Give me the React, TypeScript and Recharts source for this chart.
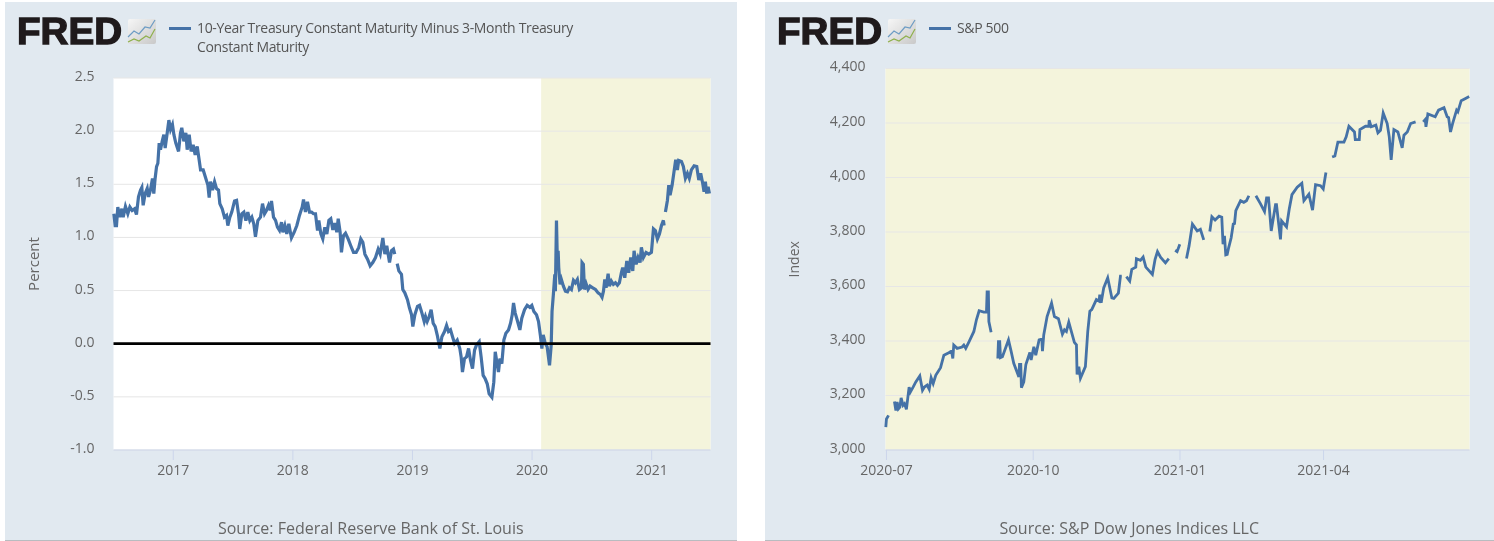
import React from "react";
import {
  LineChart,
  Line,
  XAxis,
  YAxis,
  CartesianGrid,
  ReferenceArea,
  ReferenceLine,
} from "recharts";

// 10-year minus 3-month spread, read off the picture (decimal years / percent)
const spreadYears = [
  2016.503, 2016.514, 2016.525, 2016.536, 2016.553, 2016.57, 2016.581, 2016.6, 2016.62, 2016.637,
  2016.656, 2016.676, 2016.692, 2016.709, 2016.726, 2016.737, 2016.748, 2016.765, 2016.782, 2016.793,
  2016.809, 2016.826, 2016.837, 2016.848, 2016.86, 2016.871, 2016.882, 2016.893, 2016.907, 2016.921,
  2016.932, 2016.949, 2016.963, 2016.977, 2016.993, 2017.005, 2017.021, 2017.044, 2017.06, 2017.071,
  2017.088, 2017.105, 2017.116, 2017.133, 2017.149, 2017.166, 2017.183, 2017.2, 2017.216, 2017.228,
  2017.25, 2017.272, 2017.289, 2017.3, 2017.311, 2017.328, 2017.345, 2017.361, 2017.378, 2017.389,
  2017.409, 2017.428, 2017.445, 2017.456, 2017.473, 2017.489, 2017.512, 2017.529, 2017.545, 2017.556,
  2017.573, 2017.59, 2017.607, 2017.623, 2017.64, 2017.657, 2017.673, 2017.687, 2017.707, 2017.729,
  2017.746, 2017.763, 2017.779, 2017.796, 2017.81, 2017.821, 2017.838, 2017.855, 2017.871, 2017.888,
  2017.905, 2017.916, 2017.933, 2017.949, 2017.966, 2017.988, 2018.011, 2018.033, 2018.055, 2018.078,
  2018.089, 2018.105, 2018.122, 2018.139, 2018.156, 2018.172, 2018.189, 2018.206, 2018.217, 2018.234,
  2018.25, 2018.267, 2018.284, 2018.301, 2018.317, 2018.334, 2018.351, 2018.367, 2018.379, 2018.395,
  2018.406, 2018.423, 2018.44, 2018.462, 2018.484, 2018.507, 2018.529, 2018.551, 2018.568, 2018.585,
  2018.602, 2018.624, 2018.646, 2018.668, 2018.691, 2018.713, 2018.73, 2018.752, 2018.769, 2018.785,
  2018.808, 2018.825, 2018.841, 2018.852, 2018.862, 2018.872, 2018.886, 2018.908, 2018.919, 2018.936,
  2018.958, 2018.975, 2018.992, 2019.003, 2019.02, 2019.042, 2019.059, 2019.075, 2019.098, 2019.109,
  2019.123, 2019.14, 2019.156, 2019.173, 2019.19, 2019.207, 2019.229, 2019.246, 2019.268, 2019.285,
  2019.301, 2019.318, 2019.335, 2019.352, 2019.374, 2019.396, 2019.407, 2019.418, 2019.435, 2019.452,
  2019.469, 2019.485, 2019.502, 2019.519, 2019.535, 2019.558, 2019.574, 2019.591, 2019.608, 2019.625,
  2019.641, 2019.664, 2019.68, 2019.692, 2019.703, 2019.719, 2019.731, 2019.747, 2019.764, 2019.781,
  2019.803, 2019.82, 2019.834, 2019.845, 2019.859, 2019.875, 2019.898, 2019.914, 2019.937, 2019.959,
  2019.981, 2019.998, 2020.015, 2020.037, 2020.054, 2020.071, 2020.082, 2020.093, 2020.11, 2020.126,
  2020.146, 2020.16, 2020.167, 2020.178, 2020.19, 2020.195, 2020.204, 2020.212, 2020.218, 2020.223,
  2020.234, 2020.245, 2020.262, 2020.279, 2020.296, 2020.312, 2020.329, 2020.346, 2020.362, 2020.379,
  2020.396, 2020.413, 2020.418, 2020.429, 2020.438, 2020.452, 2020.468, 2020.485, 2020.507, 2020.53,
  2020.552, 2020.571, 2020.585, 2020.597, 2020.608, 2020.619, 2020.636, 2020.647, 2020.663, 2020.68,
  2020.697, 2020.714, 2020.73, 2020.747, 2020.758, 2020.775, 2020.792, 2020.808, 2020.825, 2020.842,
  2020.853, 2020.87, 2020.886, 2020.903, 2020.914, 2020.931, 2020.953, 2020.976, 2020.998, 2021.015,
  2021.031, 2021.048, 2021.065, 2021.082, 2021.098, 2021.104, 2021.11, 2021.115, 2021.132, 2021.143,
  2021.154, 2021.171, 2021.187, 2021.201, 2021.215, 2021.226, 2021.249, 2021.265, 2021.282, 2021.299,
  2021.315, 2021.332, 2021.355, 2021.377, 2021.394, 2021.41, 2021.427, 2021.438, 2021.449, 2021.46,
  2021.472, 2021.483,
];
const spreadValues = [
  1.223, 1.112, 1.112, 1.286, 1.191, 1.27, 1.191, 1.292, 1.223, 1.286,
  1.254, 1.27, 1.216, 1.381, 1.445, 1.47, 1.302, 1.413, 1.46, 1.381,
  1.445, 1.555, 1.413, 1.555, 1.666, 1.698, 1.888, 1.825, 1.904, 1.967,
  1.841, 1.983, 2.104, 2.015, 2.062, 1.967, 1.888, 1.809, 1.983, 2.031,
  1.904, 1.983, 1.825, 1.967, 1.809, 1.872, 1.777, 1.856, 1.73, 1.635,
  1.635, 1.555, 1.492, 1.375, 1.524, 1.445, 1.524, 1.46, 1.445, 1.318,
  1.27, 1.191, 1.207, 1.112, 1.191, 1.239, 1.343, 1.349, 1.223, 1.08,
  1.223, 1.239, 1.159, 1.239, 1.159, 1.191, 1.128, 1.007, 1.159, 1.191,
  1.318, 1.223, 1.254, 1.302, 1.255, 1.344, 1.191, 1.16, 1.096, 1.065,
  1.144, 1.049, 1.112, 1.033, 1.128, 0.995, 1.049, 1.112, 1.207, 1.287,
  1.356, 1.239, 1.334, 1.239, 1.239, 1.223, 1.223, 1.065, 1.16, 1.033,
  0.986, 1.096, 1.033, 1.16, 1.176, 1.071, 1.134, 1.049, 1.176, 1.049,
  0.859, 1.017, 1.039, 0.986, 0.922, 0.859, 0.859, 0.906, 0.986, 0.954,
  0.843, 0.795, 0.732, 0.764, 0.811, 0.89, 0.843, 0.995, 0.843, 0.922,
  0.764, 0.875, 0.89, 0.843, null, 0.754, 0.685, 0.653, 0.51, 0.479,
  0.415, 0.336, 0.273, 0.162, 0.273, 0.352, 0.361, 0.304, 0.209, 0.256,
  0.209, 0.256, 0.32, 0.193, 0.161, 0.082, -0.045, 0.066, 0.114, 0.171,
  0.114, 0.13, 0.066, 0.003, 0.034, -0.045, -0.124, -0.267, -0.14, -0.124,
  -0.045, -0.156, -0.235, -0.061, -0.013, 0.019, -0.124, -0.298, -0.33, -0.377,
  -0.472, -0.504, -0.362, -0.076, -0.156, -0.267, -0.14, -0.187, 0.034, 0.098,
  0.13, 0.193, 0.272, 0.383, 0.288, 0.225, 0.13, 0.24, 0.32, 0.361,
  0.342, 0.361, 0.304, 0.272, 0.209, 0.066, -0.045, 0.082, 0.003, -0.029,
  -0.203, -0.013, 0.304, 0.463, 0.653, 0.494, 1.16, 0.748, 0.874, 0.716,
  0.558, 0.605, 0.542, 0.494, 0.488, 0.526, 0.51, 0.596, 0.573, 0.605,
  0.51, 0.526, 0.764, 0.748, 0.51, 0.564, 0.51, 0.542, 0.526, 0.51,
  0.478, 0.463, 0.437, 0.494, 0.605, 0.526, 0.659, 0.542, 0.589, 0.558,
  0.573, 0.551, 0.573, 0.668, 0.716, 0.621, 0.779, 0.668, 0.811, 0.684,
  0.874, 0.748, 0.811, 0.764, 0.906, 0.811, 0.859, 0.843, 0.859, 1.08,
  1.064, 0.985, 1.033, 1.112, 1.16, 1.112, null, 1.239, 1.35, 1.492,
  1.397, 1.492, 1.619, 1.73, 1.635, 1.724, 1.714, 1.667, 1.556, 1.603,
  1.556, 1.635, 1.673, 1.667, 1.54, 1.603, 1.508, 1.429, 1.524, 1.413,
  1.476, 1.413,
];
const spreadTicks = [-1, -0.5, 0, 0.5, 1, 1.5, 2, 2.5];
const yearTicks = [2017, 2018, 2019, 2020, 2021];

// S&P 500 close, read off the picture (days after 2020-07-01 / index), null = gap in the line
const spDays = [
  -0.4, 0, 1.3, 2.5, 5, 5.9, 6.7, 7.5, 8.4, 9.2, 10.4, 11.3, 12.5, 14.2, 15, 16.7, 18.4, 20.9, 22.6, 23.8,
  25.5, 26.8, 28, 29.3, 30.9, 33.9, 36, 39.1, 40.8, 41.6, 42.2, 44.3, 47.4, 48.5, 49.7, 51.8, 54.8, 56.4, 58.1, 61,
  62.7, 63.1, 63.9, 64.2, 65.6, 68, 69.8, 70.2, 71, 71.5, 72.7, 76.5, 78.2, 79.8, 83, 83.4, 84.2, 84.6, 86.1, 87.4,
  89.9, 90.7, 92.4, 93.6, 95.7, 97.4, 97.8, 98.6, 100.7, 103.5, 105.3, 107.8, 110.3, 111.6, 112.8, 114.3, 116.2, 117.8, 119.1, 119.5,
  120.6, 121.6, 124.7, 126.2, 127.5, 128.7, 131.6, 133.3, 133.7, 134.6, 136.2, 138.7, 141.3, 142.5, 145.4, 146.7, 147.5, 149, 150.4, 152.5,
  153.8, 156.3, 156.7, 159.2, 160.9, 162.6, 166.7, 168.4, 169.9, 171.8, 174.9, 177, 179, 181, 182.2, 183.9, 186, 188.1, 189.7, 191.8,
  194.8, 196.8, 198.9, 201, 202.7, 204, 206, 208.5, 210.2, 211, 211.9, 212.7, 213.6, 214.5, 216.1, 217.4, 218.2, 219, 222, 224,
  225.7, 227.2, 229.5, 231.6, 234.5, 237, 238.3, 239.5, 241.2, 243.9, 244.5, 247, 247.7, 250.8, 252.5, 254.2, 257.5, 260.4, 261.7, 264.8,
  267.1, 269, 272.1, 273.8, 275.5, 277.5, 279.4, 281.1, 283, 286.8, 288.2, 289.9, 293.4, 293.9, 296.4, 296.8, 300.3, 302.4, 302.6, 303.9,
  306.8, 308.1, 309.7, 311.4, 313.9, 315.2, 316.4, 318.1, 320.6, 323.3, 324.4, 326.5, 328.6, 331.7, 334, 336.5, 337.8, 338.2, 339.4, 344,
  346.1, 349.5, 351.5, 352.4, 353.6, 354.9, 357.4, 358.2, 360.3, 363, 365.3,
];
const spValues = [
  3084, 3114, 3127, null, 3178, 3145, 3176, 3151, 3157, 3191, 3164, 3170, 3149, 3231, 3213, 3231, 3250, 3272, 3219, 3231,
  3238, 3223, 3265, 3244, 3274, 3302, 3348, 3357, 3363, 3336, 3385, 3373, 3378, 3385, 3373, 3398, 3435, 3478, 3511, 3506,
  3506, 3580, 3580, 3471, 3432, null, 3336, 3398, 3398, 3339, 3342, 3404, 3361, 3318, 3268, 3314, 3314, 3229, 3250, 3314,
  3358, 3330, 3379, 3348, 3404, 3407, 3363, 3422, 3490, 3539, 3490, 3482, 3425, 3441, 3435, 3469, 3429, 3395, 3386, 3277,
  3306, 3263, 3306, 3435, 3509, 3515, 3552, 3546, 3570, 3540, 3595, 3632, 3558, 3556, 3576, 3638, 3638, null, 3636, 3620,
  3663, 3671, 3702, 3696, 3708, 3671, 3644, 3700, 3728, 3708, 3687, 3702, null, 3733, 3728, 3755, null, 3703, 3749, 3829,
  3804, 3810, 3771, null, 3802, 3856, 3844, 3858, 3854, 3755, 3786, 3716, 3718, 3742, 3779, 3829, 3831, 3878, 3915, 3909,
  3915, 3933, null, 3933, 3903, 3875, 3925, 3925, 3804, 3900, 3900, 3773, 3841, 3819, 3884, 3937, 3964, 3979, 3915, 3939,
  3880, 3974, 3970, 3958, 4018, null, 4075, 4079, 4130, 4130, 4149, 4188, 4167, 4139, 4139, 4176, 4188, 4188, 4210, 4186,
  4192, 4164, 4173, 4237, 4198, 4149, 4065, 4176, 4167, 4109, 4155, 4167, 4198, 4204, null, 4204, 4213, 4186, 4233, 4223,
  4247, 4256, 4223, 4220, 4167, 4198, 4247, 4241, 4282, 4290, 4297,
];
const spTicks = [3000, 3200, 3400, 3600, 3800, 4000, 4200, 4400];
const dayTicks = [0, 92, 184, 274];
const dayLabels = ["2020-07", "2020-10", "2021-01", "2021-04"];

const spreadData = spreadYears.map((t, i) => ({ t, v: spreadValues[i] }));
const spData = spDays.map((t, i) => ({ t, v: spValues[i] }));

const FONT = "'Open Sans', sans-serif";
const PANEL_BG = "#e1e9f0";
const RECESSION = "#f4f4dc";
const GRID = "#e6e6e6";
const AXIS = "#ccd6eb";
const LINE = "#4572a7";
const TICK = { fill: "#666666", fontSize: 14, fontFamily: FONT };

function Logo() {
  return (
    <svg width={150} height={50} style={{ position: "absolute", left: 12, top: 4 }}>
      <defs>
        <linearGradient id="logoBox" x1="0" y1="0" x2="1" y2="1">
          <stop offset="0" stopColor="#f6f6f6" />
          <stop offset="1" stopColor="#c9c9c9" />
        </linearGradient>
      </defs>
      <text
        x={0}
        y={38}
        fontFamily="'Liberation Sans', sans-serif"
        fontWeight={700}
        fontSize={36}
        fill="#1f1a1c"
        stroke="#1f1a1c"
        strokeWidth={1.3}
        textLength={105}
        lengthAdjust="spacingAndGlyphs"
      >
        FRED
      </text>
      <rect x={111} y={13} width={28} height={25} rx={2} fill="url(#logoBox)" />
      <polyline points="111,31 117,25 122,28 128,21 133,22 138,14" fill="none" stroke="#6d9cc4" strokeWidth={1.2} />
      <polyline points="111,36 117,33 122,35 129,30 133,32 138,23" fill="none" stroke="#8eb04c" strokeWidth={1.2} />
    </svg>
  );
}

function Header({ lines }: { lines: string[] }) {
  return (
    <>
      <Logo />
      <div style={{ position: "absolute", left: 164, top: 25, width: 22, height: 3, background: LINE }} />
      <div
        style={{
          position: "absolute",
          left: 192.5,
          top: 17,
          fontFamily: FONT,
          fontSize: 14,
          lineHeight: "18.5px",
          letterSpacing: "-0.34px",
          color: "#555555",
          whiteSpace: "nowrap",
        }}
      >
        {lines.map((l) => (
          <div key={l}>{l}</div>
        ))}
      </div>
    </>
  );
}

function Source({ text }: { text: string }) {
  return (
    <div
      style={{
        position: "absolute",
        left: 0,
        right: 0,
        top: 515,
        textAlign: "center",
        fontFamily: FONT,
        fontSize: 16,
        color: "#666666",
      }}
    >
      {text}
    </div>
  );
}

const panelStyle = (left: number, width: number): React.CSSProperties => ({
  position: "absolute",
  left,
  top: 2,
  width,
  height: 538,
  background: PANEL_BG,
  borderBottom: "1px solid #b8bcc0",
});

function SpreadChart() {
  return (
    <div style={panelStyle(4.5, 732.5)}>
      <Header
        lines={[
          "10-Year Treasury Constant Maturity Minus 3-Month Treasury",
          "Constant Maturity",
        ]}
      />
      <Source text="Source: Federal Reserve Bank of St. Louis" />
      <div style={{ position: "absolute", left: 0, top: 0 }}>
        <LineChart
          width={732}
          height={538}
          data={spreadData}
          margin={{ top: 76, right: 26.5, left: 0, bottom: 0 }}
        >
          {/* white plot background, then the band, then the grid lines over it */}
          <CartesianGrid fill="#ffffff" fillOpacity={1} horizontal={false} vertical={false} zIndex={-200} />
          <ReferenceArea
            x1={2020.076}
            x2={2021.492}
            fill={RECESSION}
            fillOpacity={1}
            stroke="none"
            zIndex={-150}
          />
          <CartesianGrid stroke={GRID} vertical={false} />
          <XAxis
            dataKey="t"
            type="number"
            domain={[2016.5, 2021.492]}
            ticks={yearTicks}
            height={90}
            tick={TICK}
            tickSize={10}
            tickMargin={5}
            tickLine={{ stroke: AXIS }}
            axisLine={{ stroke: AXIS }}
          />
          <YAxis
            type="number"
            width={108.5}
            domain={[-1, 2.5]}
            ticks={spreadTicks}
            tick={{ ...TICK, dy: -2 }}
            tickFormatter={(v: number) => v.toFixed(1)}
            axisLine={false}
            tickLine={false}
            tickSize={0}
            tickMargin={19}
            label={{
              value: "Percent",
              angle: -90,
              position: "insideLeft",
              offset: 29,
              style: { ...TICK, fontSize: 15, textAnchor: "middle" },
            }}
          />
          <Line
            dataKey="v"
            stroke={LINE}
            strokeWidth={3.2}
            dot={false}
            isAnimationActive={false}
          />
          <ReferenceLine y={0} stroke="#000000" strokeWidth={2.8} />
        </LineChart>
      </div>
    </div>
  );
}

function SpChart() {
  return (
    <div style={panelStyle(764.5, 729.5)}>
      <Header lines={["S&P 500"]} />
      <Source text="Source: S&P Dow Jones Indices LLC" />
      <div style={{ position: "absolute", left: 0, top: 0 }}>
        <LineChart
          width={729.5}
          height={538}
          data={spData}
          margin={{ top: 66.5, right: 25, left: 0, bottom: 0 }}
        >
          <CartesianGrid fill="#ffffff" fillOpacity={1} horizontal={false} vertical={false} zIndex={-200} />
          <ReferenceArea
            x1={-0.6}
            x2={365.5}
            fill={RECESSION}
            fillOpacity={1}
            stroke="none"
            zIndex={-150}
          />
          <CartesianGrid stroke={GRID} vertical={false} />
          <XAxis
            dataKey="t"
            type="number"
            domain={[-0.6, 365.5]}
            ticks={dayTicks}
            height={90}
            tick={TICK}
            tickSize={10}
            tickMargin={5}
            tickLine={{ stroke: AXIS }}
            axisLine={{ stroke: AXIS }}
            tickFormatter={(d: number) => dayLabels[dayTicks.indexOf(d)]}
          />
          <YAxis
            type="number"
            width={120.5}
            domain={[3000, 4400]}
            ticks={spTicks}
            tick={{ ...TICK, dy: -2 }}
            tickFormatter={(v: number) => v.toLocaleString("en-US")}
            axisLine={false}
            tickLine={false}
            tickSize={0}
            tickMargin={20}
            label={{
              value: "Index",
              angle: -90,
              position: "insideLeft",
              offset: 29,
              style: { ...TICK, textAnchor: "middle" },
            }}
          />
          <Line
            dataKey="v"
            stroke={LINE}
            strokeWidth={2.8}
            dot={false}
            isAnimationActive={false}
          />
        </LineChart>
      </div>
    </div>
  );
}

export default function App() {
  return (
    <div
      style={{
        position: "absolute",
        left: 0,
        top: 0,
        width: 1494,
        height: 541,
        overflow: "hidden",
        background: "#ffffff",
        filter: "blur(0.4px)",
      }}
    >
      <SpreadChart />
      <SpChart />
    </div>
  );
}
